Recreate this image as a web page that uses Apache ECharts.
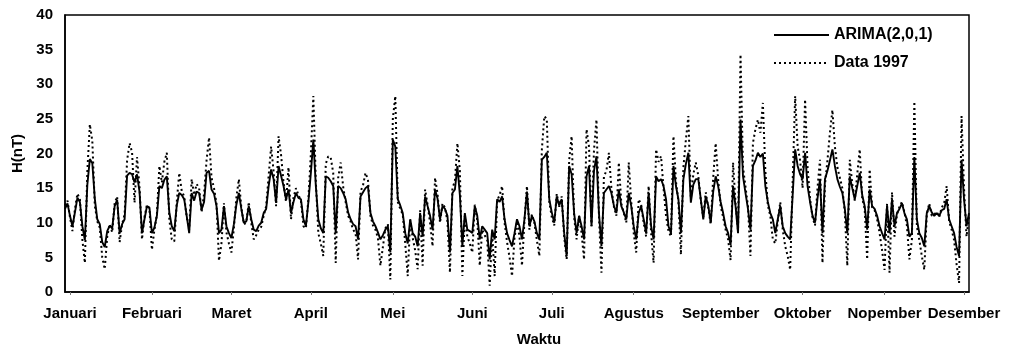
<!DOCTYPE html>
<html>
<head>
<meta charset="utf-8">
<script src="https://cdn.jsdelivr.net/npm/echarts@6/dist/echarts.min.js"></script>
<style>
  html, body { margin: 0; padding: 0; background: #fff; }
  #chart { width: 1010px; height: 352px; }
</style>
</head>
<body>
<div id="chart"></div>
<script>
// nilai harian komponen H (nT) tahun 1997
const arima = [
  12.0,12.8,11.0,9.5,11.5,13.6,13.0,9.5,7.5,15.5,
  19.2,18.6,13.5,10.5,9.8,7.2,6.5,8.8,9.6,9.2,
  12.4,13.3,8.5,9.8,10.5,16.8,17.2,17.0,15.8,17.0,
  14.5,8.5,10.5,12.4,12.2,8.5,9.3,11.0,15.3,15.0,
  16.2,16.7,11.5,9.5,8.8,12.5,14.3,14.0,13.4,11.0,
  8.5,14.3,13.2,14.5,14.3,11.9,13.0,17.2,17.5,14.8,
  14.2,12.4,8.5,9.0,12.4,9.5,8.5,7.8,9.8,12.6,
  14.3,12.0,10.0,10.2,12.4,10.5,9.0,8.8,9.6,10.0,
  11.4,12.0,15.3,17.7,16.3,12.9,18.2,16.8,15.3,13.4,
  14.8,11.4,13.0,14.3,13.6,13.4,10.5,9.5,13.0,17.2,
  22.0,15.3,10.5,9.2,8.5,16.7,16.5,16.0,15.3,8.5,
  15.3,15.0,14.3,13.4,11.5,10.5,9.8,9.5,7.6,13.8,
  14.4,15.0,15.3,11.4,10.2,9.5,8.6,7.6,8.2,9.0,
  9.5,5.7,22.0,21.0,13.4,12.5,11.4,8.5,7.0,10.5,
  8.5,8.0,6.6,11.4,8.0,13.8,12.4,11.0,9.0,14.8,
  13.5,10.5,12.4,12.0,11.0,5.7,14.3,14.8,18.2,14.0,
  6.6,11.4,9.0,8.8,8.5,12.4,11.0,7.6,9.5,9.0,
  8.5,4.7,9.0,7.6,13.4,13.0,13.8,10.5,8.5,7.5,
  6.6,8.5,10.5,9.5,7.6,10.5,14.5,9.5,11.0,10.2,
  8.5,7.6,19.1,19.5,20.1,13.4,11.5,10.0,13.8,12.5,
  13.4,8.5,5.2,18.2,17.0,11.4,8.5,11.0,9.5,7.6,
  16.7,18.2,9.5,17.5,19.6,11.4,6.6,14.3,14.8,15.3,
  14.3,12.5,11.4,14.8,12.4,11.5,10.5,14.3,12.4,9.5,
  7.6,11.4,12.4,10.5,8.5,14.3,9.5,7.6,16.7,16.0,
  16.3,15.3,13.4,9.5,8.5,18.2,15.3,13.4,8.5,16.3,
  18.5,20.1,12.9,15.5,16.3,16.3,13.4,10.5,13.8,12.5,
  10.0,14.5,16.7,15.3,13.0,11.4,9.5,8.5,6.8,15.3,
  12.4,8.5,24.9,16.7,14.3,12.0,9.0,18.2,19.0,20.1,
  19.5,20.0,15.3,13.0,11.4,10.5,8.5,10.5,12.4,9.5,
  8.5,8.0,7.6,14.0,20.6,18.2,17.0,16.3,20.1,15.3,
  13.0,11.0,10.0,13.5,16.3,8.5,16.3,17.5,19.0,20.6,
  18.2,16.3,15.2,14.3,12.0,8.5,16.7,15.0,13.4,15.3,
  17.2,14.0,12.4,9.0,14.8,12.4,12.0,11.0,9.5,8.5,
  7.6,12.4,8.5,13.4,9.5,11.4,12.0,12.8,11.4,10.5,
  8.0,8.5,19.5,10.5,8.5,7.8,6.6,11.4,12.4,11.5,
  11.0,11.4,11.0,11.8,12.0,13.4,10.5,9.5,8.5,6.5,
  5.2,19.1,13.4,9.5,11.4
];

const data1997 = [
  12.5,13.2,10.8,8.8,12.0,14.2,13.4,7.5,4.2,17.5,
  24.2,21.8,12.5,10.2,9.3,5.0,3.3,8.0,9.8,8.6,
  12.8,13.8,7.2,9.8,11.2,19.0,21.5,20.2,12.9,19.5,
  15.2,7.6,10.8,12.6,12.0,6.1,9.0,11.2,18.2,15.8,
  18.8,20.1,10.5,7.6,7.3,13.0,17.2,14.6,13.8,10.8,
  9.0,16.3,14.0,15.6,15.0,11.5,14.2,19.0,22.3,16.5,
  15.0,12.8,4.5,7.0,12.8,8.6,7.0,5.7,9.2,13.6,
  16.3,12.2,9.8,10.0,13.0,10.0,7.6,8.2,9.0,9.4,
  11.0,12.4,16.8,21.0,17.4,12.4,22.5,19.8,15.8,13.0,
  18.0,10.5,13.6,15.0,14.0,13.2,9.5,9.2,13.4,20.0,
  28.3,16.0,8.5,7.0,5.2,18.5,19.6,19.4,17.2,4.2,
  16.5,18.7,15.2,13.0,11.0,10.2,9.0,8.5,4.7,14.5,
  15.4,17.2,16.2,11.0,9.6,9.0,7.8,3.8,6.5,9.2,
  9.8,1.8,25.0,28.3,13.0,12.0,11.2,7.0,2.3,10.4,
  7.8,6.0,3.3,11.8,3.8,14.8,12.6,10.0,6.6,16.5,
  14.2,10.0,12.8,12.2,10.2,2.8,15.0,16.0,21.5,17.5,
  2.3,11.0,8.0,7.0,5.7,12.6,10.4,3.8,9.0,8.2,
  7.5,0.9,8.5,2.3,13.2,14.0,15.3,10.0,7.2,5.0,
  2.3,7.8,10.2,8.0,3.8,10.2,15.3,9.0,11.2,10.0,
  7.5,5.2,20.5,25.4,25.0,13.0,10.8,9.6,14.2,12.3,
  13.8,8.0,4.7,19.0,22.5,10.8,7.6,11.0,8.5,4.7,
  23.5,21.0,9.5,20.5,24.9,11.0,2.8,16.7,17.5,20.1,
  15.0,12.4,11.0,18.7,12.8,11.4,10.0,18.7,13.0,8.5,
  5.7,13.4,12.6,10.0,8.0,15.3,8.5,4.2,20.6,18.8,
  19.6,15.0,11.0,8.8,8.0,22.5,16.0,13.0,5.4,18.0,
  22.0,25.4,13.5,17.0,18.7,16.8,13.2,10.8,14.4,12.2,
  9.8,16.5,21.5,16.2,12.4,10.8,9.0,7.6,4.6,18.7,
  12.8,8.9,34.3,18.0,15.2,12.4,5.2,21.5,23.5,24.9,
  23.0,27.3,17.5,12.5,11.0,7.6,7.0,10.2,13.0,9.0,
  6.6,5.2,3.2,16.0,28.3,21.0,19.0,15.0,27.8,18.0,
  13.5,10.8,9.6,15.0,19.1,4.2,15.5,19.0,23.0,26.3,
  21.0,18.0,16.5,15.0,11.5,3.8,19.1,15.6,13.2,17.0,
  20.6,13.5,12.0,4.7,17.7,12.2,11.8,10.5,8.5,6.0,
  3.2,12.8,2.8,14.4,8.0,11.2,12.3,13.0,11.5,9.6,
  4.7,7.5,27.5,9.5,7.5,5.2,3.2,11.2,12.8,11.0,
  11.2,11.6,10.8,12.2,12.8,15.3,10.2,9.0,7.5,4.0,
  1.3,25.4,15.0,8.0,11.0
];

// label bulan dan posisi (indeks hari) tempat label ditulis
const monthNames = ["Januari", "Februari", "Maret", "April", "Mei", "Juni",
  "Juli", "Agustus", "September", "Oktober", "Nopember", "Desember"];
const monthIdx = [2, 35, 67, 99, 132, 164, 196, 229, 264, 297, 330, 362];

const days = arima.map((_, i) => String(i));

const font = "'Liberation Sans', Arial, sans-serif";
const chart = echarts.init(document.getElementById("chart"));

chart.setOption({
  backgroundColor: "#fff",
  animation: false,
  grid: {
    left: 65,
    right: 41,
    top: 15,
    bottom: 60,
    show: true,
    borderColor: "#000",
    borderWidth: 1.5,
  },
  legend: {
    orient: "vertical",
    left: 773,
    top: 27,
    padding: 0,
    itemWidth: 55,
    itemHeight: 14,
    itemGap: 12,
    itemStyle: { opacity: 0 },
    textStyle: { fontFamily: font, fontWeight: "bold", fontSize: 16, color: "#000" },
    data: ["ARIMA(2,0,1)", "Data 1997"],
  },
  xAxis: {
    type: "category",
    data: days,
    boundaryGap: false,
    name: "Waktu",
    nameLocation: "middle",
    nameGap: 40,
    nameTextStyle: { fontFamily: font, fontWeight: "bold", fontSize: 15, color: "#000", padding: [0, 0, 0, 44] },
    axisLine: { lineStyle: { color: "#000", width: 1.5 } },
    axisTick: {
      show: true,
      length: 3,
      interval: (i) => monthIdx.includes(i),
      lineStyle: { color: "#777", width: 1 },
    },
    axisLabel: {
      interval: (i) => monthIdx.includes(i),
      formatter: (v, i) => monthNames[monthIdx.indexOf(i)] || "",
      fontFamily: font,
      fontWeight: "bold",
      fontSize: 15,
      color: "#000",
      margin: 14,
    },
    splitLine: { show: false },
  },
  yAxis: {
    type: "value",
    min: 0,
    max: 40,
    interval: 5,
    name: "H(nT)",
    nameLocation: "middle",
    nameGap: 40,
    nameRotate: 90,
    nameTextStyle: { fontFamily: font, fontWeight: "bold", fontSize: 15, color: "#000" },
    axisLine: { show: true, lineStyle: { color: "#000", width: 1.5 } },
    axisTick: { show: false },
    axisLabel: { fontFamily: font, fontWeight: "bold", fontSize: 15, color: "#000", margin: 12 },
    splitLine: { show: false },
  },
  series: [
    {
      name: "ARIMA(2,0,1)",
      type: "line",
      data: arima,
      symbol: "none",
      lineStyle: { color: "#000", width: 1.9 },
      itemStyle: { color: "#000" },
      z: 3,
    },
    {
      name: "Data 1997",
      type: "line",
      data: data1997,
      symbol: "none",
      lineStyle: { color: "#000", width: 2, type: [2, 3] },
      itemStyle: { color: "#000" },
      z: 2,
    },
  ],
});
</script>
</body>
</html>
